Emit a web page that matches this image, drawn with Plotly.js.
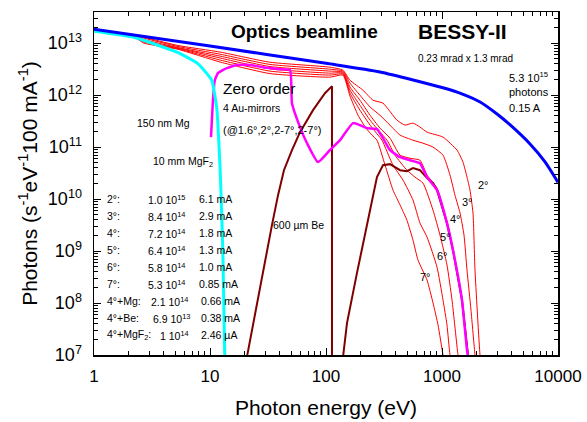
<!DOCTYPE html>
<html><head><meta charset="utf-8">
<script src="https://cdn.plot.ly/plotly-3.0.1.min.js"></script>
<style>html,body{margin:0;padding:0;background:#fff}#chart{width:587px;height:422px}</style>
</head><body><div id="chart"></div>
<script>
// ---- Data (photon energy in eV, photons s^-1 eV^-1 100 mA^-1) ----
const srcE = [1, 10, 100, 292, 1000, 1500, 2130, 3000, 3850, 5740, 7730, 10000];
const srcY = [1.86e13, 8.8e12, 4.1e12, 2.8e12, 1.4e12, 1.05e12, 7.4e11, 4.3e11, 2.7e11, 1.15e11, 5.2e10, 2.1e10];

const e2 = [1, 2.2, 2.7, 5.2, 12.4, 32.9, 108, 140, 161, 208, 254, 310, 409, 480, 562, 646, 743, 1020, 1347, 1517, 1643, 1743, 1850, 1925, 2126, 2200];
const y2 = [1.75e13, 1.42e13, 1.30e13, 9.1e12, 6.7e12, 4.3e12, 3.45e12, 3.03e12, 1.94e12, 1.25e12, 8.0e11, 7.0e11, 3.3e11, 2.65e11, 2.9e11, 2.43e11, 1.94e11, 1.56e11, 8.75e10, 5.15e10, 2.65e10, 1.49e10, 5.4e9, 4.3e8, 1e7, 5e6];

const e3 = [1, 2.2, 2.7, 5.2, 12.4, 32.9, 108, 140, 161, 196, 240, 292, 356, 435, 562, 686, 837, 1020, 1172, 1294, 1430, 1548, 1643, 1778, 1925, 2000];
const y3 = [1.75e13, 1.40e13, 1.25e13, 8.7e12, 6.1e12, 3.9e12, 3.16e12, 2.89e12, 1.70e12, 1.0e12, 5.9e11, 4.1e11, 2.65e11, 1.70e11, 1.36e11, 1.19e11, 1.0e11, 7.0e10, 2.9e10, 1.19e10, 5.4e9, 2.03e9, 4.3e8, 7.3e7, 1e7, 5e6];

const e4 = [1, 2.2, 2.7, 5.2, 12.4, 32.9, 108, 140, 161, 196, 240, 292, 356, 435, 530, 646, 743, 906, 1104, 1244, 1487, 1675, 1750];
const y4 = [1.75e13, 1.38e13, 1.17e13, 8.3e12, 5.6e12, 3.55e12, 2.9e12, 2.77e12, 1.43e12, 8.0e11, 4.1e11, 2.32e11, 1.49e11, 7.0e10, 6.1e10, 5.6e10, 2.9e10, 1.63e10, 3.6e9, 1.04e9, 1.14e8, 1e7, 5e6];

const e5 = [1, 2.2, 2.7, 5.2, 12.4, 32.9, 108, 140, 161, 196, 240, 292, 336, 393, 499, 585, 686, 837, 961, 1104, 1220, 1374, 1450];
const y5 = [1.75e13, 1.36e13, 1.09e13, 8.1e12, 5.15e12, 3.2e12, 2.65e12, 2.65e12, 1.25e12, 6.4e11, 3.3e11, 1.94e11, 1.36e11, 7.0e10, 3.6e10, 2.65e10, 2.03e10, 6.1e9, 2.03e9, 5.4e8, 1.14e8, 1e7, 5e6];

const e6 = [1, 2.2, 2.7, 5.2, 12.4, 32.9, 108, 140, 161, 196, 240, 281, 304, 378, 461, 562, 646, 743, 906, 1020, 1104, 1172, 1250];
const y6 = [1.75e13, 1.34e13, 1.05e13, 7.9e12, 4.7e12, 2.9e12, 2.43e12, 2.54e12, 1.09e12, 5.15e11, 2.65e11, 1.70e11, 1.36e11, 4.5e10, 2.32e10, 9.6e9, 3.45e9, 1.86e9, 4.9e8, 1.14e8, 3.8e7, 1e7, 5e6];

const e7 = [1, 2.2, 2.7, 5.2, 12.4, 32.9, 108, 140, 161, 189, 221, 249, 275, 323, 378, 435, 499, 562, 621, 743, 837, 924, 1020, 1080];
const y7 = [1.75e13, 1.32e13, 1.0e13, 7.7e12, 4.3e12, 2.6e12, 2.22e12, 2.43e12, 9.6e11, 4.1e11, 2.32e11, 1.70e11, 1.36e11, 4.5e10, 1.49e10, 7.7e9, 3.9e9, 1.63e9, 6.7e8, 2.77e8, 1.0e8, 3.8e7, 1e7, 5e6];

const mgf2E = [1, 2.2, 5.2, 7.8, 9.4, 10.4, 11.0, 11.5, 11.8, 12.2, 12.5, 12.9, 13.4, 13.6];
const mgf2Y = [1.7e13, 1.3e13, 6.7e12, 4.1e12, 2.6e12, 1.9e12, 1.0e12, 5e11, 1.9e11, 4.2e10, 9.5e9, 1.0e9, 1e7, 5e6];

const mgE = [10.2, 10.6, 11.0, 11.7, 12.9, 14.0, 17.1, 22.1, 28.6, 40.1, 49.0, 50.9, 59.7, 68.6, 85.3, 108, 132, 171, 226, 275, 310, 356, 435, 530, 646, 743, 906, 1104, 1244, 1487, 1643, 1760];
const mgY = [1.56e11, 8.0e11, 1.94e12, 2.65e12, 3.03e12, 3.3e12, 3.8e12, 3.8e12, 3.45e12, 3.16e12, 3.03e12, 7.0e11, 2.43e11, 1.19e11, 5.15e10, 8.75e10, 1.36e11, 2.9e11, 2.32e11, 2.22e11, 1.49e11, 8.75e10, 6.4e10, 5.6e10, 4.9e10, 2.65e10, 1.49e10, 3.45e9, 1.04e9, 1.14e8, 1.25e7, 5e6];

const beE = [20.8, 23.0, 25.9, 29.8, 34.2, 38.6, 43.4, 50.9, 59.7, 77.3, 98, 112.6, 112.6, null, 140.2, 151.7, 185, 226, 275, 310, 356, 435, 499, 562, 646, 743, 837, 906, 1104, 1244, 1487, 1675];
const beY = [9.1e6, 3.0e7, 1.14e8, 6.7e8, 3.16e9, 1.19e10, 3.6e10, 8.75e10, 1.94e11, 5.15e11, 1.09e12, 1.49e12, 5e6, null, 9.1e6, 4.1e7, 3.8e8, 3.45e9, 2.65e10, 4.5e10, 4.7e10, 3.6e10, 3.45e10, 3.95e10, 3.6e10, 2.54e10, 2.03e10, 1.49e10, 3.45e9, 1.04e9, 1.14e8, 1e7];

const angleLabels = ['2°', '3°', '4°', '5°', '6°', '7°'];
const tableLabels = ['2°:', '3°:', '4°:', '5°:', '6°:', '7°:', '4°+Mg:', '4°+Be:', '4°+MgF<sub>2</sub>:'];
const tableFlux = ['1.0 10<sup>15</sup>', '8.4 10<sup>14</sup>', '7.2 10<sup>14</sup>', '6.4 10<sup>14</sup>', '5.8 10<sup>14</sup>', '5.3 10<sup>14</sup>', '2.1 10<sup>14</sup>', '6.9 10<sup>13</sup>', '1 10<sup>14</sup>'];
const tableCurrent = ['6.1 mA', '2.9 mA', '1.8 mA', '1.3 mA', '1.0 mA', '0.85 mA', '0.66 mA', '0.38 mA', '2.46 µA'];
const xTickVals = [1, 10, 100, 1000, 10000];
const xTickText = ['1', '10', '100', '1000', '10000'];
const yTickVals = [1e7, 1e8, 1e9, 1e10, 1e11, 1e12, 1e13];
const yTickText = ['10<sup>7</sup>', '10<sup>8</sup>', '10<sup>9</sup>', '10<sup>10</sup>', '10<sup>11</sup>', '10<sup>12</sup>', '10<sup>13</sup>'];

// ---- layout helpers ----
const L = 94, R = 558, T = 12, B = 355;
function px(x) { return (x - L) / (R - L); }
function py(y) { return (B - y) / (B - T); }
const FONT = 'Liberation Sans, Arial, Helvetica, sans-serif';

function minorVals(lo, hi) {
  const v = [];
  for (let d = lo; d < hi; d++) for (let m = 2; m <= 9; m++) v.push(m * Math.pow(10, d));
  return v;
}

const red = {color: '#ff0000', width: 1, shape: 'spline', smoothing: 0.5};
const traces = [
  {x: e2, y: y2, mode: 'lines', line: red},
  {x: e3, y: y3, mode: 'lines', line: red},
  {x: e4, y: y4, mode: 'lines', line: red},
  {x: e5, y: y5, mode: 'lines', line: red},
  {x: e6, y: y6, mode: 'lines', line: red},
  {x: e7, y: y7, mode: 'lines', line: red},
  {x: beE, y: beY, mode: 'lines', connectgaps: false, line: {color: '#800000', width: 2}},
  {x: mgE, y: mgY, mode: 'lines', line: {color: '#ff00ff', width: 2.5, shape: 'spline', smoothing: 0.4}},
  {x: mgf2E, y: mgf2Y, mode: 'lines', line: {color: '#00ffff', width: 3, shape: 'spline', smoothing: 0.4}},
  {x: srcE, y: srcY, mode: 'lines', line: {color: '#0000ff', width: 3, shape: 'spline', smoothing: 0.6}}
];

const ann = [];
function A(text, x, y, size, opts) {
  ann.push(Object.assign({text: text, x: px(x), y: py(y), xref: 'paper', yref: 'paper',
    showarrow: false, xanchor: 'left', yanchor: 'middle',
    font: {family: FONT, size: size, color: '#000'}}, opts || {}));
}
A('<b>Optics beamline</b>', 229, 32, 19);
A('<b>BESSY-II</b>', 416, 32, 21);
A('0.23 mrad x 1.3 mrad', 416, 59, 10);
A('5.3 10<sup>15</sup>', 507, 77, 11);
A('photons', 507, 92, 11);
A('0.15 A', 507, 108, 11);
A('Zero order', 221, 88, 15.5);
A('4 Au-mirrors', 221, 108, 10.5);
A('(@1.6°,2°,2-7°,2-7°)', 221, 130, 11);
A('150 nm Mg', 135, 123, 10.5);
A('10 mm MgF<sub>2</sub>', 151, 162, 10.5);
A('600 µm Be', 271, 225, 10.5);
const angPos = [[476, 185], [460, 202], [448, 219], [438, 237], [435, 256], [418, 277]];
angleLabels.forEach((t, i) => A(t, angPos[i][0], angPos[i][1], 11));
const rowY = [199, 216, 233, 250, 267, 284, 301, 318, 335];
const fluxX = [146, 146, 146, 146, 146, 146, 149, 151, 158];
const curX = [197, 197, 197, 197, 197, 197, 199, 199, 199];
tableLabels.forEach((t, i) => {
  A(t, 105, rowY[i], 10.5);
  A(tableFlux[i], fluxX[i], rowY[i], 10.5);
  A(tableCurrent[i], curX[i], rowY[i], 10.5);
});

const axisCommon = {
  type: 'log', showgrid: false, zeroline: false, showline: true, linecolor: '#000', linewidth: 1.5,
  mirror: 'allticks', ticks: 'inside', ticklen: 7, tickwidth: 1, tickcolor: '#000',
  tickmode: 'array'
};
const layout = {
  width: 587, height: 422,
  margin: {l: L, r: 587 - R, t: T, b: 422 - B},
  paper_bgcolor: '#fff', plot_bgcolor: '#fff', showlegend: false,
  font: {family: FONT, color: '#000'},
  xaxis: Object.assign({}, axisCommon, {
    range: [0, 4], tickvals: xTickVals, ticktext: xTickText,
    tickfont: {family: FONT, size: 17}, ticklabelstandoff: 5,
    minor: {tickmode: 'array', tickvals: minorVals(0, 4), ticks: 'inside', ticklen: 4, tickcolor: '#000', tickwidth: 1, showgrid: false},
    title: {text: 'Photon energy (eV)', font: {family: FONT, size: 21}, standoff: 15}
  }),
  yaxis: Object.assign({}, axisCommon, {
    range: [7, 13.6], tickvals: yTickVals, ticktext: yTickText,
    tickfont: {family: FONT, size: 18}, ticklabelstandoff: 7,
    minor: {tickmode: 'array', tickvals: minorVals(7, 14), ticks: 'inside', ticklen: 4, tickcolor: '#000', tickwidth: 1, showgrid: false},
    title: {text: 'Photons (s<sup>-1</sup>eV<sup>-1</sup>100 mA<sup>-1</sup>)', font: {family: FONT, size: 21}, standoff: 4}
  }),
  annotations: ann
};
Plotly.newPlot('chart', traces, layout, {staticPlot: true, displayModeBar: false});
</script>
</body></html>
